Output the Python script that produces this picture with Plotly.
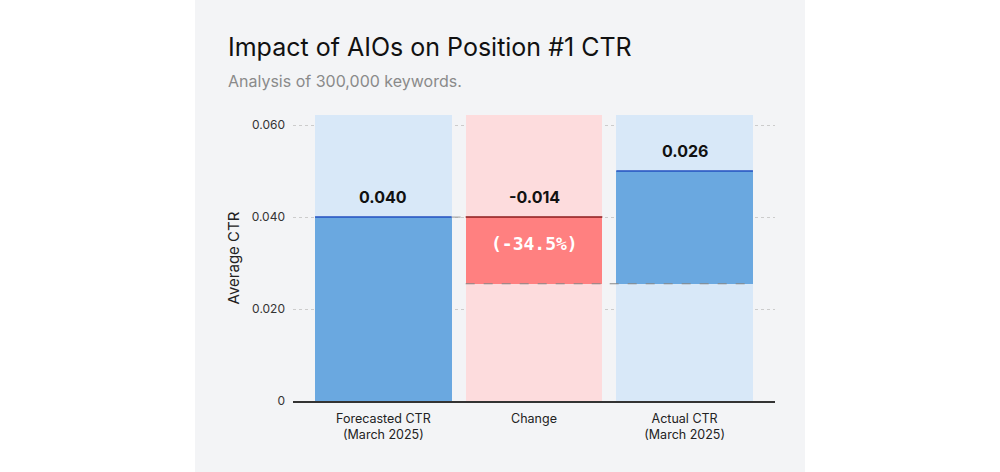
import plotly.graph_objects as go

categories = ["Forecasted CTR<br>(March 2025)", "Change", "Actual CTR<br>(March 2025)"]
bar_base = [0.0, 0.0255, 0.0255]
bar_top = [0.040, 0.040, 0.050]
value_labels = ["0.040", "-0.014", "0.026"]
pct_label = "(-34.5%)"
bg_top = 0.0622
tick_vals = [0, 0.02, 0.04, 0.06]
tick_text = ["0", "0.020", "0.040", "0.060"]

bg_colors = ["#d8e8f8", "#fddcdd", "#d8e8f8"]
main_colors = ["#6aa8e0", "#ff8080", "#6aa8e0"]
top_colors = ["#2350c0", "#8b1c1c", "#2350c0"]
W = 0.907
xs = list(range(len(categories)))

pl, pr, pt, pb = 293, 225, 115, 71
pw = 1000 - pl - pr
ph = 472 - pt - pb

def px_x(x):
    return (x - pl) / pw

def px_y(y):
    return (472 - pb - y) / ph

fig = go.Figure()
fig.add_trace(go.Bar(x=xs, y=[bg_top] * 3, marker=dict(color=bg_colors, line=dict(width=0)),
                     width=W, hoverinfo="skip", showlegend=False))
fig.add_trace(go.Bar(x=xs, y=[t - b for t, b in zip(bar_top, bar_base)], base=bar_base,
                     marker=dict(color=main_colors, line=dict(width=0)), width=W, showlegend=False,
                     hoverinfo="skip"))

shapes = [dict(type="rect", xref="paper", yref="paper",
               x0=px_x(195), x1=px_x(805), y0=px_y(480), y1=px_y(-8),
               fillcolor="#f3f4f6", line=dict(width=0), layer="below")]
for i in xs:
    shapes.append(dict(type="line", xref="x", yref="y", x0=i - W / 2, x1=i + W / 2,
                       y0=bar_top[i], y1=bar_top[i], line=dict(color=top_colors[i], width=1.5)))
shapes.append(dict(type="line", xref="x", yref="y", x0=1 - W / 2, x1=2 + W / 2,
                   y0=bar_base[1], y1=bar_base[1], line=dict(color="#888888", width=1, dash="dash")))
shapes.append(dict(type="line", xref="x", yref="y", x0=0 + W / 2, x1=1 - W / 2,
                   y0=bar_top[0], y1=bar_top[0], line=dict(color="#999999", width=1, dash="dash")))

annotations = []
for i in xs:
    annotations.append(dict(x=i, y=bar_top[i], xref="x", yref="y", text="<b>%s</b>" % value_labels[i],
                            showarrow=False, yshift=20, font=dict(size=16, color="#111111", family="Inter")))
annotations.append(dict(x=1, y=bar_top[1], xref="x", yref="y", text="<b>%s</b>" % pct_label,
                        showarrow=False, yshift=-26, font=dict(size=18, color="white", family="DejaVu Sans Mono")))
annotations.append(dict(x=px_x(226), y=px_y(47), xref="paper", yref="paper",
                        text="Impact of AIOs on Position #1 CTR", showarrow=False, xanchor="left", yanchor="middle",
                        font=dict(size=25, color="#111111", family="Inter")))
annotations.append(dict(x=px_x(226), y=px_y(81), xref="paper", yref="paper",
                        text="Analysis of 300,000 keywords.", showarrow=False, xanchor="left", yanchor="middle",
                        font=dict(size=16, color="#8a8a8a", family="Inter")))

fig.update_layout(
    width=1000, height=472,
    margin=dict(l=pl, r=pr, t=pt, b=pb),
    paper_bgcolor="white", plot_bgcolor="rgba(0,0,0,0)",
    barmode="overlay", bargap=0,
    shapes=shapes, annotations=annotations,
    font=dict(family="Inter", color="#333333"),
    xaxis=dict(range=[-0.6, 2.6], tickvals=xs, ticktext=categories, showgrid=False,
               zeroline=False, showline=True, linecolor="#333333", linewidth=1.5,
               tickfont=dict(size=12.5, color="#222222"), ticks="", ticklabelstandoff=5,
               fixedrange=True),
    yaxis=dict(range=[0, bg_top], tickvals=tick_vals, ticktext=tick_text, showgrid=True,
               gridcolor="#cccccc", griddash="dot", gridwidth=1, zeroline=False,
               tickfont=dict(size=12, color="#333333"), ticks="", ticklabelstandoff=7,
               title=dict(text="Average CTR", font=dict(size=15, color="#222222"), standoff=8),
               fixedrange=True),
)
fig.write_html("out.html", config={"displayModeBar": False},
               post_script="document.body.style.margin='0';")
